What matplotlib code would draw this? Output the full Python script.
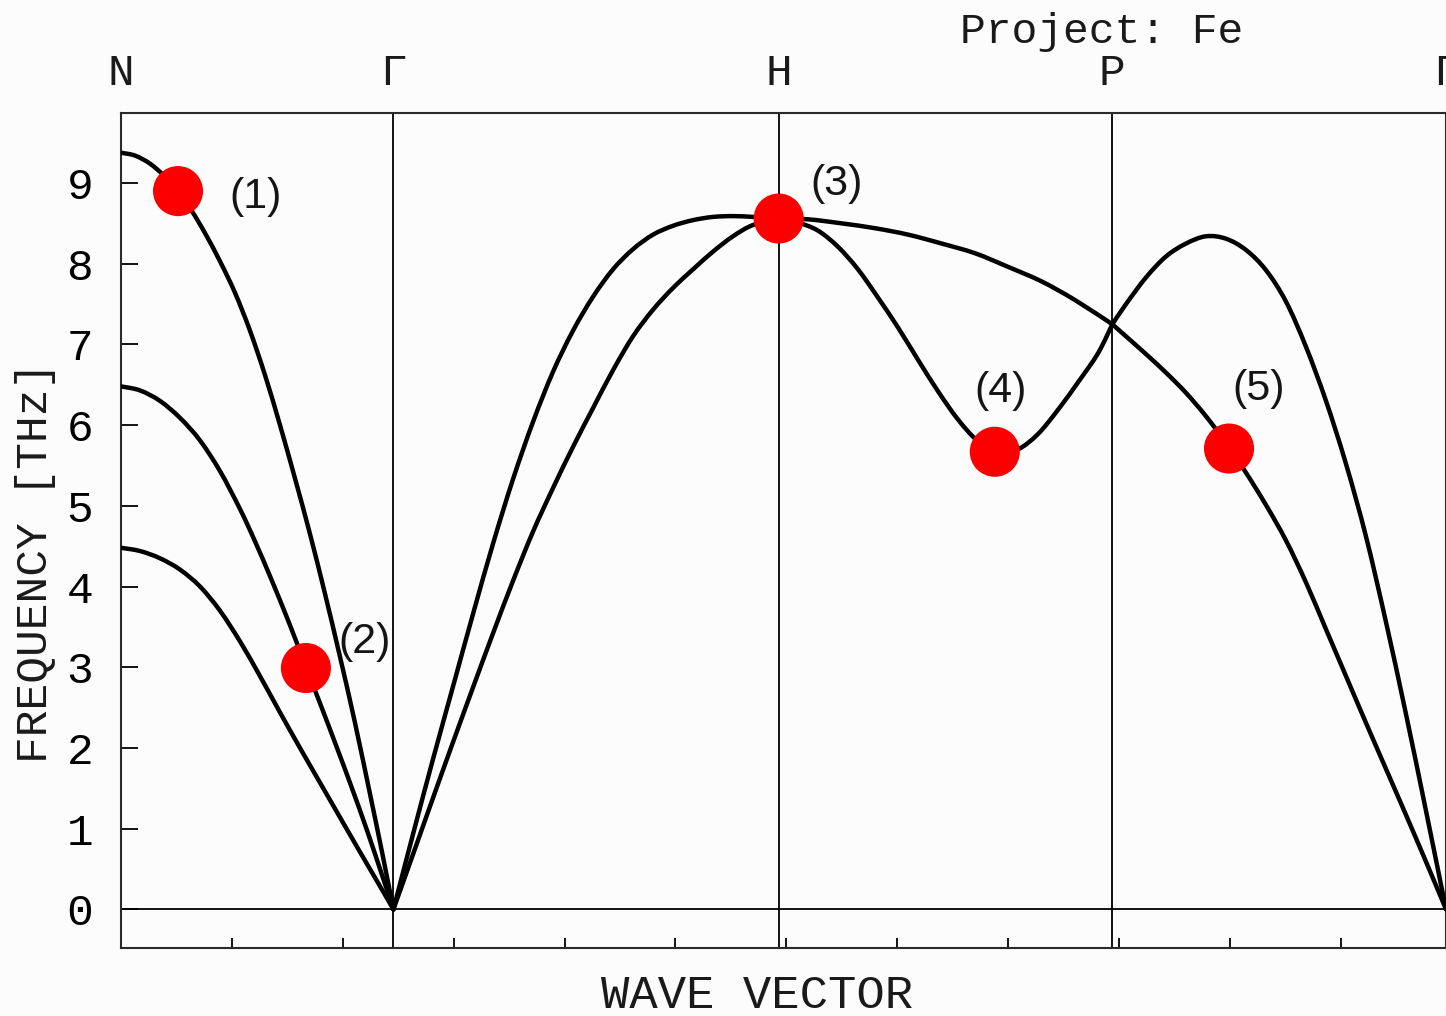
import numpy as np
import matplotlib
matplotlib.use("Agg")
import matplotlib.pyplot as plt
from matplotlib.path import Path
from matplotlib.patches import PathPatch
from matplotlib.transforms import blended_transform_factory

# High-symmetry points along the bcc path (wave vector in units of 2*pi/a)
sym_labels = ["N", "Γ", "H", "P", "Γ"]
sym_pos = [0.0, 0.7071, 1.7071, 2.5731, 3.4392]

# Frequency axis
freq_ticks = [0, 1, 2, 3, 4, 5, 6, 7, 8, 9]
freq_tick_labels = ["0", "1", "2", "3", "4", "5", "6", "7", "8", "9"]

# N -> Gamma branches
ng_top_x = [0.0, 0.0363, 0.0753, 0.1142, 0.1479, 0.1843, 0.2180, 0.2570, 0.2959,
            0.3348, 0.3738, 0.4127, 0.4516, 0.4906, 0.5295, 0.5684, 0.6074,
            0.6463, 0.6775, 0.7071]
ng_top_f = [9.375, 9.34, 9.24, 9.08, 8.90, 8.65, 8.38, 8.03, 7.64,
            7.17, 6.62, 6.00, 5.34, 4.65, 3.91, 3.13, 2.31,
            1.43, 0.71, 0.0]

ng_mid_x = [0.0, 0.0493, 0.1012, 0.1531, 0.2051, 0.2570, 0.3089, 0.3478, 0.3919,
            0.4387, 0.4820, 0.5209, 0.5599, 0.5988, 0.6377, 0.6723, 0.7071]
ng_mid_f = [6.48, 6.43, 6.30, 6.09, 5.81, 5.43, 4.96, 4.56, 4.07,
            3.52, 2.98, 2.50, 2.01, 1.51, 0.99, 0.50, 0.0]

ng_low_x = [0.0, 0.0493, 0.1012, 0.1531, 0.2051, 0.2570, 0.3089, 0.3608,
            0.4127, 0.4646, 0.5165, 0.5684, 0.6204, 0.6645, 0.7071]
ng_low_f = [4.48, 4.44, 4.35, 4.21, 4.00, 3.70, 3.32, 2.89,
            2.44, 2.00, 1.57, 1.14, 0.71, 0.35, 0.0]

# Gamma -> H branches
gh_up_x = [0.7071, 0.7579, 0.8098, 0.8617, 0.9137, 0.9656, 1.0175, 1.0694, 1.1213,
           1.1732, 1.2251, 1.2770, 1.3289, 1.3809, 1.4328, 1.4847, 1.5366, 1.5885,
           1.6404, 1.7071]
gh_up_f = [0.0, 0.93, 1.86, 2.76, 3.66, 4.53, 5.33, 6.04, 6.66,
           7.17, 7.59, 7.93, 8.18, 8.36, 8.47, 8.54, 8.58, 8.59,
           8.58, 8.56]

gh_lo_x = [0.7071, 0.7579, 0.8098, 0.8617, 0.9137, 0.9656, 1.0175, 1.0694, 1.1213,
           1.1732, 1.2251, 1.2770, 1.3289, 1.3809, 1.4328, 1.4847, 1.5366, 1.5885,
           1.6404, 1.7071]
gh_lo_f = [0.0, 0.68, 1.38, 2.07, 2.75, 3.42, 4.07, 4.68, 5.22,
           5.73, 6.21, 6.68, 7.10, 7.43, 7.70, 7.93, 8.15, 8.34,
           8.48, 8.56]

# H -> P branches
hp_up_x = [1.7071, 1.7840, 1.8706, 1.9571, 2.0435, 2.1302, 2.2166, 2.3031,
           2.3898, 2.4762, 2.5731]
hp_up_f = [8.56, 8.55, 8.50, 8.44, 8.36, 8.25, 8.13, 7.96, 7.78, 7.55, 7.25]

hp_lo_x = [1.7071, 1.7572, 1.8091, 1.8610, 1.9130, 1.9649, 2.0168, 2.0687, 2.1206,
           2.1725, 2.2244, 2.2763, 2.3283, 2.3802, 2.4321, 2.4840, 2.5359, 2.5731]
hp_lo_f = [8.56, 8.51, 8.41, 8.21, 7.93, 7.58, 7.21, 6.81, 6.42,
           6.07, 5.80, 5.66, 5.70, 5.89, 6.19, 6.53, 6.89, 7.25]

# P -> Gamma branches
pg_a_x = [2.5731, 2.6086, 2.6605, 2.7124, 2.7643, 2.8162, 2.8681, 2.9201, 2.9720,
          3.0239, 3.0758, 3.1277, 3.1796, 3.2315, 3.2834, 3.3353, 3.3873, 3.4392]
pg_a_f = [7.25, 7.50, 7.83, 8.09, 8.25, 8.34, 8.31, 8.17, 7.92,
          7.53, 6.97, 6.30, 5.52, 4.62, 3.56, 2.42, 1.22, 0.0]

pg_b_x = [2.5731, 2.6086, 2.6605, 2.7124, 2.7643, 2.8162, 2.8681, 2.9201, 2.9720,
          3.0239, 3.0758, 3.1277, 3.1796, 3.2315, 3.2834, 3.3353, 3.3873, 3.4392]
pg_b_f = [7.25, 7.10, 6.88, 6.65, 6.40, 6.11, 5.78, 5.41, 5.01,
          4.57, 4.05, 3.47, 2.89, 2.31, 1.74, 1.17, 0.59, 0.0]

branches = [
    (ng_top_x, ng_top_f), (ng_mid_x, ng_mid_f), (ng_low_x, ng_low_f),
    (gh_up_x, gh_up_f), (gh_lo_x, gh_lo_f),
    (hp_up_x, hp_up_f), (hp_lo_x, hp_lo_f),
    (pg_a_x, pg_a_f), (pg_b_x, pg_b_f),
]

# Highlighted modes
mode_labels = ["(1)", "(2)", "(3)", "(4)", "(5)"]
mode_x = [0.148, 0.480, 1.7071, 2.268, 2.876]
mode_f = [8.90, 2.99, 8.56, 5.67, 5.71]
label_offsets = [(56, -4), (42, 19), (42, 25), (4, 44), (21, 43)]

MONO = "Liberation Mono"
SANS = "Liberation Sans"
BG = "#fbfcfb"


def smooth_path(xs, ys):
    """Catmull-Rom curve through the sampled points, as cubic Bezier segments."""
    pts = np.column_stack([xs, ys]).astype(float)
    n = len(pts)
    verts = [pts[0]]
    codes = [Path.MOVETO]
    for i in range(n - 1):
        p0 = pts[max(i - 1, 0)]
        p1 = pts[i]
        p2 = pts[i + 1]
        p3 = pts[min(i + 2, n - 1)]
        c1 = p1 + (p2 - p0) / 6.0
        c2 = p2 - (p3 - p1) / 6.0
        verts += [c1, c2, p2]
        codes += [Path.CURVE4] * 3
    return Path(verts, codes)


fig = plt.figure(figsize=(14.46, 10.16), dpi=100, facecolor=BG)
ax = fig.add_axes([121 / 1446, 68.5 / 1016, 1325 / 1446, 834.2 / 1016])
ax.set_facecolor(BG)
ax.set_xlim(sym_pos[0], sym_pos[-1])
ax.set_ylim(-0.473, 9.864)

for spine in ax.spines.values():
    spine.set_linewidth(1.5)
    spine.set_color("#2a2a2a")

# zero line and high-symmetry verticals
ax.axhline(0, color="black", lw=1.3, zorder=1)
for xp in sym_pos[1:-1]:
    ax.axvline(xp, color="black", lw=1.3, zorder=1)

# phonon branches
for xs, fs in branches:
    ax.add_patch(PathPatch(smooth_path(xs, fs), fill=False, edgecolor="black",
                           lw=3.2, capstyle="round", joinstyle="round", zorder=3))

# highlighted modes
ax.scatter(mode_x, mode_f, s=1300, color="#fc0000", edgecolors="none", zorder=5)
for lab, xm, fm, off in zip(mode_labels, mode_x, mode_f, label_offsets):
    ax.annotate(lab, (xm, fm), xytext=off, textcoords="offset points",
                ha="center", va="center", fontsize=31, family=SANS,
                color="#151515", zorder=6)

# y axis
ax.set_yticks(freq_ticks)
ax.set_yticklabels(freq_tick_labels, family=MONO, fontsize=32)
ax.tick_params(axis="y", direction="in", length=12, width=1.3, pad=20,
               left=True, right=False)

# x axis: unlabelled ticks along the path
ax.set_xticks(np.arange(1, 12) * 0.2878)
ax.set_xticklabels([])
ax.tick_params(axis="x", direction="in", length=7, width=1.3,
               bottom=True, top=False)

# high-symmetry labels above the frame
trans = blended_transform_factory(ax.transData, ax.transAxes)
for lab, xp in zip(sym_labels, sym_pos):
    ax.text(xp, 1.0345, lab, transform=trans, ha="center", va="baseline",
            family=MONO, fontsize=32, color="#1a1a1a", clip_on=False)

fig.text(0.762, 0.9574, "Project: Fe", ha="center", va="baseline",
         family=MONO, fontsize=31, color="#1a1a1a")
fig.text(0.5235, 0.0075, "WAVE VECTOR", ha="center", va="baseline",
         family=MONO, fontsize=34, color="#1a1a1a")
fig.text(0.0245, 0.4469, "FREQUENCY [THz]", ha="center", va="center",
         rotation=90, family=MONO, fontsize=32, color="#1a1a1a")

fig.savefig("out.png", dpi=100, facecolor=BG)
